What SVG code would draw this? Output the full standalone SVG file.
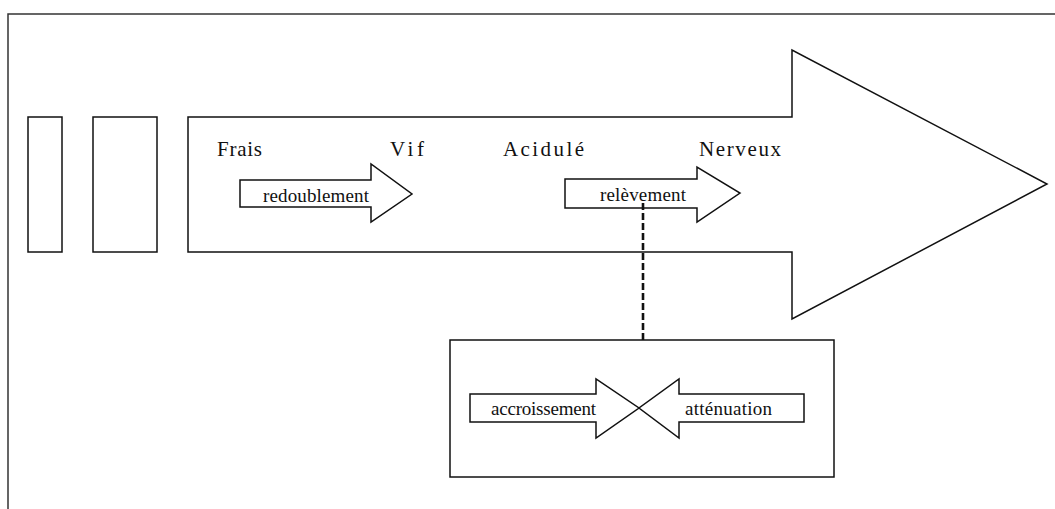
<svg xmlns="http://www.w3.org/2000/svg" width="1055" height="509" viewBox="0 0 1055 509">
<style>
.s{fill:#fff;stroke:#111;stroke-width:1.5}
.t{font-family:"Liberation Serif","Times New Roman",serif;font-size:19px;fill:#111}
.h{font-size:21px}
.d{stroke:#111;stroke-width:2.6;stroke-dasharray:7 3;fill:none}
</style>
<rect width="1055" height="509" fill="#fff"/>
<g id="frame"><path d="M8 509 V14 H1055" fill="none" stroke="#333" stroke-width="1.5"/></g>
<g id="bar1"><rect class="s" x="28" y="117" width="34" height="135"/></g>
<g id="bar2"><rect class="s" x="93" y="117" width="64" height="135"/></g>
<g id="main-arrow">
<polygon class="s" points="188,117 792,117 792,50 1047,184 792,319 792,252 188,252"/>
<text class="t h" x="217" y="156" textLength="45">Frais</text>
<text class="t h" x="390" y="156" textLength="34">Vif</text>
<text class="t h" x="503" y="156" textLength="81">Acidulé</text>
<text class="t h" x="699" y="156" textLength="82">Nerveux</text>
</g>
<g id="redoublement">
<polygon class="s" points="240,180 371,180 371,164 412,194 371,222 371,207 240,207"/>
<text class="t" x="263" y="202" textLength="106">redoublement</text>
</g>
<g id="releve">
<polygon class="s" points="565,179 697,179 697,167 740,193 697,222 697,208 565,208"/>
<text class="t" x="600" y="201" textLength="86">relèvement</text>
</g>
<g id="connectors">
<line class="d" x1="643" y1="203" x2="643" y2="340"/>
</g>
<g id="box">
<rect class="s" x="450" y="340" width="384" height="137"/>
</g>
<g id="accroissement">
<polygon class="s" points="470,394 596,394 596,379 639,408 596,438 596,422 470,422"/>
<text class="t" x="491" y="415" textLength="105">accroissement</text>
</g>
<g id="attenuation">
<polygon class="s" points="804,394 679,394 679,379 639,408 679,438 679,422 804,422"/>
<text class="t" x="685" y="415" textLength="87">atténuation</text>
</g>
</svg>
